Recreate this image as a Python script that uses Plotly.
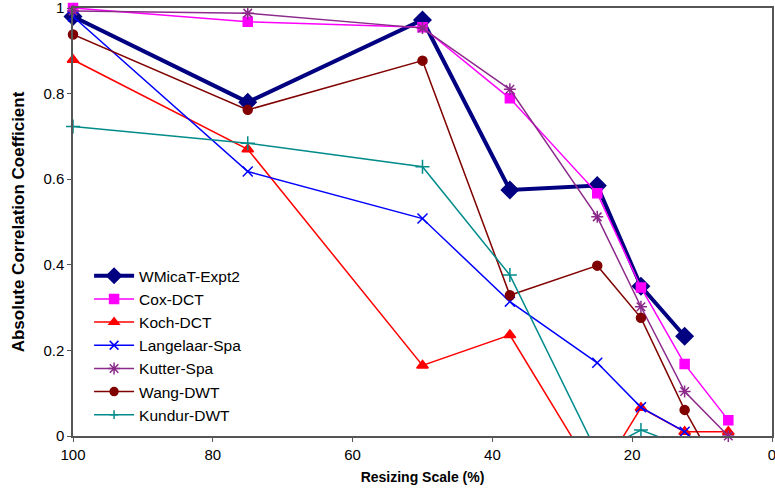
import plotly.graph_objects as go

scales = [100, 75, 50, 37.5, 25, 18.75, 12.5, 6.25]

wmicat = [0.98, 0.78, 0.972, 0.575, 0.585, 0.35, 0.233, None]
cox = [1.0, 0.968, 0.955, 0.789, 0.567, 0.347, 0.168, 0.037]
koch = [0.879, 0.67, 0.165, 0.236, -0.1, 0.066, 0.01, 0.01]
langelaar = [0.98, 0.618, 0.508, 0.314, 0.171, 0.067, 0.01, -0.075]
kutter = [0.993, 0.988, 0.953, 0.81, 0.512, 0.302, 0.104, 0.0]
wang = [0.938, 0.762, 0.877, 0.329, 0.398, 0.276, 0.061, -0.12]
kundur = [0.723, 0.684, 0.629, 0.376, -0.04, 0.014, -0.025, None]

series = [
    ("WMicaT-Expt2", wmicat, "#000080", "diamond", 13, 4),
    ("Cox-DCT", cox, "#FF00FF", "square", 9, 1.5),
    ("Koch-DCT", koch, "#FF0000", "triangle-up", 10, 1.5),
    ("Langelaar-Spa", langelaar, "#0000FF", "x-thin-open", 10, 1.5),
    ("Kutter-Spa", kutter, "#8B2A8B", "asterisk-open", 10, 1.5),
    ("Wang-DWT", wang, "#800000", "circle", 9, 1.5),
    ("Kundur-DWT", kundur, "#008B8B", "cross-thin-open", 10, 1.5),
]

fig = go.Figure()
for name, vals, color, sym, size, lw in series:
    sizes = [size if (v is not None and v >= 0) else 0 for v in vals]
    fig.add_trace(go.Scatter(
        x=scales, y=vals, name=name, mode="lines+markers",
        line=dict(color=color, width=lw),
        marker=dict(symbol=sym, size=sizes, color=color, opacity=1,
                    line=dict(color=color, width=1.5)),
        cliponaxis=False, connectgaps=False,
    ))

font_family = "Liberation Sans, Arial, Helvetica, sans-serif"
fig.update_layout(
    width=775, height=488,
    margin=dict(l=73, r=3, t=8, b=52),
    paper_bgcolor="white", plot_bgcolor="white",
    font=dict(family=font_family, size=15, color="black"),
    showlegend=True,
    legend=dict(x=0.023, y=0.413, xanchor="left", yanchor="top",
                bgcolor="rgba(0,0,0,0)", font=dict(size=15.5),
                tracegroupgap=0, itemwidth=40),
)
fig.update_xaxes(
    range=[100, 0], tickvals=[100, 80, 60, 40, 20, 0],
    showgrid=False, zeroline=False, automargin=False,
    ticklabeloverflow="allow",
    showline=True, linecolor="#555555", linewidth=1.5, mirror=True,
    ticks="outside", ticklen=4, tickcolor="#555555",
    tickfont=dict(size=15),
    title=dict(text="<b>Resizing Scale (%)</b>", font=dict(size=14), standoff=10),
)
fig.update_yaxes(
    range=[0, 1], tickvals=[0, 0.2, 0.4, 0.6, 0.8, 1],
    ticktext=["0", "0.2", "0.4", "0.6", "0.8", "1"],
    showgrid=False, zeroline=False, automargin=False,
    ticklabeloverflow="allow",
    showline=True, linecolor="#555555", linewidth=1.5, mirror=True,
    ticks="outside", ticklen=4, tickcolor="#555555",
    tickfont=dict(size=15),
    title=dict(text="<b>Absolute Correlation Coefficient</b>", font=dict(size=17), standoff=14),
)

fig.write_html(
    "out.html",
    config={"displayModeBar": False},
    post_script="document.body.style.margin='0';document.body.style.padding='0';",
)
